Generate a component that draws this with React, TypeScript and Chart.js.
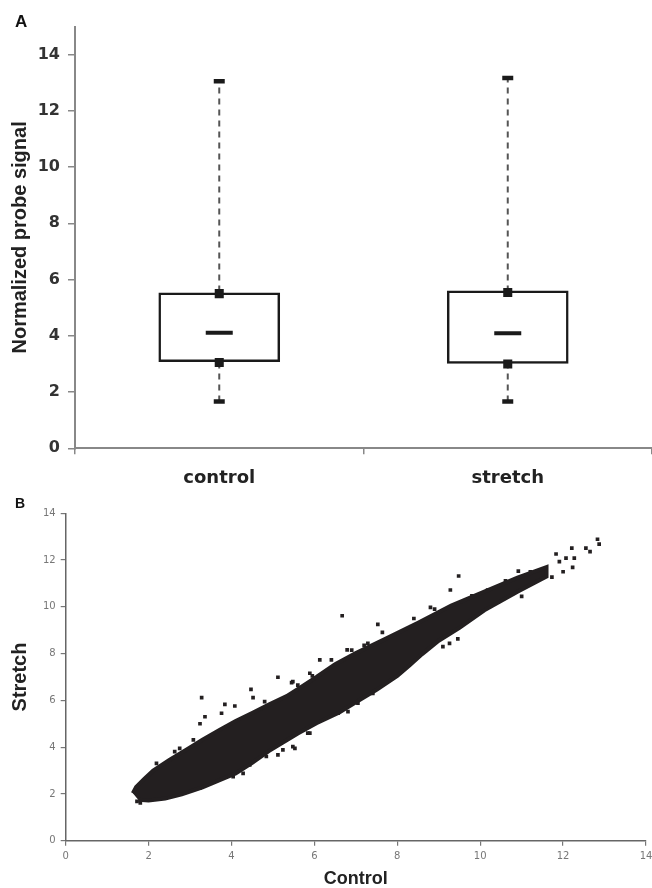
import React, { useEffect, useRef } from "react";
import { Chart, registerables } from "chart.js";

Chart.register(...registerables);

// ---------- Panel A: box plot values ----------
const boxCategories = ["control", "stretch"];
const whiskerLow = [1.66, 1.66];
const whiskerHigh = [13.05, 13.17];
const boxQ1 = [3.08, 3.02];
const boxQ3 = [5.53, 5.6];
const boxMedian = [4.11, 4.09];
const markerHigh = [5.5, 5.54];
const markerLow = [3.05, 3.0];
const yTicksA = [0, 2, 4, 6, 8, 10, 12, 14];

// ---------- Panel B: scatter (dense cloud outline + scattered points) ----------
const cloudUpperX = [1.62, 1.7, 1.9, 2.11, 2.5, 2.92, 3.3, 3.72, 4.1, 4.52, 4.9, 5.33, 5.7, 6.05, 6.5, 7.0, 7.7, 8.5, 9.3, 10.1, 10.9, 11.6];
const cloudUpperY = [2.03, 2.3, 2.65, 3.0, 3.45, 3.9, 4.32, 4.75, 5.12, 5.48, 5.82, 6.18, 6.6, 7.0, 7.55, 8.02, 8.62, 9.32, 10.05, 10.65, 11.25, 11.7];
const cloudLowerX = [11.6, 10.9, 10.1, 9.5, 9.0, 8.6, 8.3, 8.0, 7.5, 7.0, 6.6, 6.05, 5.6, 4.9, 4.5, 4.1, 3.7, 3.3, 2.8, 2.4, 2.0, 1.75];
const cloudLowerY = [11.3, 10.65, 9.85, 9.1, 8.55, 7.98, 7.5, 7.05, 6.45, 5.92, 5.48, 5.02, 4.58, 3.83, 3.33, 2.88, 2.58, 2.28, 1.98, 1.8, 1.72, 1.75];
const outlierX = [3.28, 5.12, 4.47, 3.84, 4.08, 3.36, 3.76, 3.24, 4.52, 5.48, 5.12, 4.28, 5.48, 5.84, 3.64, 3.08, 2.75, 5.53, 5.89, 6.67, 7.53, 7.64, 8.8, 9.28, 9.48, 9.8, 10.18, 10.3, 10.61, 10.92, 11.21, 11.83, 12.21, 12.55, 12.65, 12.83, 12.87, 12.0, 12.23, 11.73, 9.46, 9.26, 7.88, 7.29, 6.79, 6.41, 8.1, 12.07, 12.27, 11.91, 7.17, 7.41, 6.57, 6.81, 7.05, 6.25, 6.13, 5.45, 5.89, 1.8, 1.72, 2.63, 2.19, 2.27, 3.0, 3.24, 3.67, 4.04, 4.44, 4.84, 5.24, 4.8, 5.6, 5.95, 6.9, 7.2, 8.4, 8.9, 9.1, 10.5, 11.0];
const outlierY = [6.12, 6.99, 6.47, 5.83, 5.76, 5.3, 5.45, 5.0, 6.12, 6.8, 3.67, 2.88, 4.02, 4.6, 2.67, 4.31, 3.95, 3.95, 4.6, 9.62, 9.25, 8.91, 9.98, 10.72, 11.32, 10.47, 10.72, 10.76, 11.11, 11.53, 11.5, 12.26, 12.51, 12.51, 12.36, 12.89, 12.68, 11.5, 11.69, 11.27, 8.63, 8.44, 6.95, 8.44, 8.16, 7.73, 8.73, 12.08, 12.08, 11.93, 6.3, 6.3, 5.45, 5.52, 5.88, 5.3, 7.73, 6.76, 7.16, 1.62, 1.68, 3.81, 3.31, 1.83, 2.17, 2.26, 2.6, 2.74, 3.24, 3.6, 3.88, 5.95, 6.65, 7.05, 8.15, 8.35, 9.5, 9.9, 8.3, 10.9, 10.45];
const xTicksB = [0, 2, 4, 6, 8, 10, 12, 14];
const yTicksB = [0, 2, 4, 6, 8, 10, 12, 14];

const INK = "#231f20";

function panelLetter(letter: string, x: number, y: number, size: number) {
  return {
    id: "panelLetter" + letter,
    afterDraw(chart: any) {
      const ctx = chart.ctx;
      ctx.save();
      ctx.fillStyle = "#111";
      ctx.font = `bold ${size}px "Liberation Sans", Arial, sans-serif`;
      ctx.textBaseline = "alphabetic";
      ctx.textAlign = "left";
      ctx.fillText(letter, x, y);
      ctx.restore();
    },
  };
}

export default function App() {
  const refA = useRef<HTMLCanvasElement | null>(null);
  const refB = useRef<HTMLCanvasElement | null>(null);

  useEffect(() => {
    const pts = (vals: number[]) => boxCategories.map((c, i) => ({ x: c, y: vals[i] }));
    const whiskerSets = boxCategories.map((c, i) => ({
      type: "line" as const,
      data: [
        { x: c, y: whiskerLow[i] },
        { x: c, y: whiskerHigh[i] },
      ],
      borderColor: "#555",
      borderWidth: 2,
      borderDash: [6, 5],
      pointRadius: 0,
      order: 10,
    }));

    const chartA = new Chart(refA.current!, {
      type: "bar",
      data: {
        labels: boxCategories,
        datasets: [
          ...whiskerSets,
          {
            type: "bar" as const,
            data: boxCategories.map((_, i) => [boxQ1[i], boxQ3[i]]),
            backgroundColor: "#ffffff",
            borderColor: "#1a1a1a",
            borderWidth: 2.5,
            borderSkipped: false,
            barThickness: 121,
            order: 5,
          },
          {
            type: "line" as const,
            data: pts(boxMedian),
            showLine: false,
            pointStyle: "line",
            pointRadius: 13.5,
            pointBorderWidth: 4,
            pointBorderColor: "#1a1a1a",
            order: 1,
          },
          {
            type: "line" as const,
            data: pts(markerHigh),
            showLine: false,
            pointStyle: "rect",
            pointRadius: 6.4,
            pointBackgroundColor: "#1a1a1a",
            pointBorderColor: "#1a1a1a",
            pointBorderWidth: 0,
            order: 1,
          },
          {
            type: "line" as const,
            data: pts(markerLow),
            showLine: false,
            pointStyle: "rect",
            pointRadius: 6.4,
            pointBackgroundColor: "#1a1a1a",
            pointBorderColor: "#1a1a1a",
            pointBorderWidth: 0,
            order: 1,
          },
          {
            type: "line" as const,
            data: pts(whiskerHigh),
            showLine: false,
            pointStyle: "line",
            pointRadius: 5.5,
            pointBorderWidth: 4.5,
            pointBorderColor: "#1a1a1a",
            order: 1,
          },
          {
            type: "line" as const,
            data: pts(whiskerLow),
            showLine: false,
            pointStyle: "line",
            pointRadius: 5.5,
            pointBorderWidth: 4.5,
            pointBorderColor: "#1a1a1a",
            order: 1,
          },
        ] as any,
      },
      options: {
        responsive: false,
        animation: false,
        devicePixelRatio: 1,
        layout: { autoPadding: false, padding: { top: 26.5, left: 0, right: 0, bottom: 0 } },
        plugins: { legend: { display: false }, tooltip: { enabled: false } },
        scales: {
          x: {
            type: "category",
            offset: true,
            grid: {
              offset: true,
              drawOnChartArea: false,
              drawTicks: true,
              tickLength: 6,
              color: "#888",
              lineWidth: 1.5,
            },
            border: { display: true, color: "#888", width: 2 },
            ticks: {
              color: "#222",
              font: { family: "'DejaVu Sans'", weight: "bold", size: 18 },
              padding: 13,
              autoSkip: false,
              maxRotation: 0,
            },
            afterFit: (s: any) => {
              s.height = 46.7;
              s.paddingLeft = 0;
              s.paddingRight = 0;
            },
          },
          y: {
            min: 0,
            max: 15,
            afterBuildTicks: (s: any) => {
              s.ticks = yTicksA.map((v) => ({ value: v }));
            },
            ticks: {
              color: "#333",
              font: { family: "'DejaVu Sans'", weight: "bold", size: 16 },
              padding: 8,
              includeBounds: false,
            },
            grid: { drawOnChartArea: false, tickLength: 7, color: "#888", lineWidth: 1.5 },
            border: { display: true, color: "#888", width: 2 },
            title: {
              display: true,
              text: "Normalized probe signal",
              color: "#222",
              font: { family: "'Liberation Sans'", weight: "bold", size: 20, lineHeight: 1 },
              padding: { top: 10, bottom: 0 },
            },
            afterFit: (s: any) => {
              s.width = 75;
              s.paddingTop = 0;
              s.paddingBottom = 0;
            },
          },
        },
      } as any,
      plugins: [panelLetter("A", 15, 27, 17)],
    });

    const cloud = [
      ...cloudUpperX.map((x, i) => ({ x, y: cloudUpperY[i] })),
      ...cloudLowerX.map((x, i) => ({ x, y: cloudLowerY[i] })),
    ];
    const outliers = outlierX.map((x, i) => ({ x, y: outlierY[i] }));

    const chartB = new Chart(refB.current!, {
      type: "scatter",
      data: {
        datasets: [
          {
            data: cloud,
            showLine: true,
            fill: "shape",
            backgroundColor: INK,
            borderColor: INK,
            borderWidth: 4,
            tension: 0,
            pointRadius: 0,
          },
          {
            data: outliers,
            showLine: false,
            pointStyle: "rect",
            pointRadius: 2.6,
            pointBackgroundColor: INK,
            pointBorderColor: INK,
            pointBorderWidth: 0,
          },
        ] as any,
      },
      options: {
        responsive: false,
        animation: false,
        devicePixelRatio: 1,
        layout: { autoPadding: false, padding: { top: 18.3, left: 0, right: 6, bottom: 0 } },
        plugins: { legend: { display: false }, tooltip: { enabled: false } },
        scales: {
          x: {
            type: "linear",
            min: 0,
            max: 14,
            afterBuildTicks: (s: any) => {
              s.ticks = xTicksB.map((v) => ({ value: v }));
            },
            grid: { drawOnChartArea: false, tickLength: 5, color: "#777", lineWidth: 1.2 },
            border: { display: true, color: "#666", width: 1.5 },
            ticks: {
              color: "#777",
              font: { family: "'DejaVu Sans'", size: 10 },
              padding: 5,
              maxRotation: 0,
              autoSkip: false,
            },
            title: {
              display: true,
              text: "Control",
              color: "#222",
              font: { family: "'Liberation Sans'", weight: "bold", size: 18, lineHeight: 1 },
              padding: { top: 0, bottom: 0 },
            },
            afterFit: (s: any) => {
              s.height = 47.3;
              s.paddingLeft = 0;
              s.paddingRight = 0;
            },
          },
          y: {
            type: "linear",
            min: 0,
            max: 14,
            afterBuildTicks: (s: any) => {
              s.ticks = yTicksB.map((v) => ({ value: v }));
            },
            grid: { drawOnChartArea: false, tickLength: 5, color: "#777", lineWidth: 1.2 },
            border: { display: true, color: "#666", width: 1.5 },
            ticks: {
              color: "#777",
              font: { family: "'DejaVu Sans'", size: 10 },
              padding: 5,
              autoSkip: false,
            },
            title: {
              display: true,
              text: "Stretch",
              color: "#222",
              font: { family: "'Liberation Sans'", weight: "bold", size: 20, lineHeight: 1 },
              padding: { top: 10, bottom: 0 },
            },
            afterFit: (s: any) => {
              s.width = 65.7;
              s.paddingTop = 0;
              s.paddingBottom = 0;
            },
          },
        },
      } as any,
      plugins: [panelLetter("B", 15, 13, 14)],
    });

    return () => {
      chartA.destroy();
      chartB.destroy();
    };
  }, []);

  return (
    <div style={{ position: "absolute", left: 0, top: 0, width: 652, height: 888, background: "#fff" }}>
      <canvas
        ref={refA}
        width={652}
        height={495}
        style={{ position: "absolute", left: 0, top: 0, width: 652, height: 495 }}
      />
      <canvas
        ref={refB}
        width={652}
        height={393}
        style={{ position: "absolute", left: 0, top: 495, width: 652, height: 393 }}
      />
    </div>
  );
}
